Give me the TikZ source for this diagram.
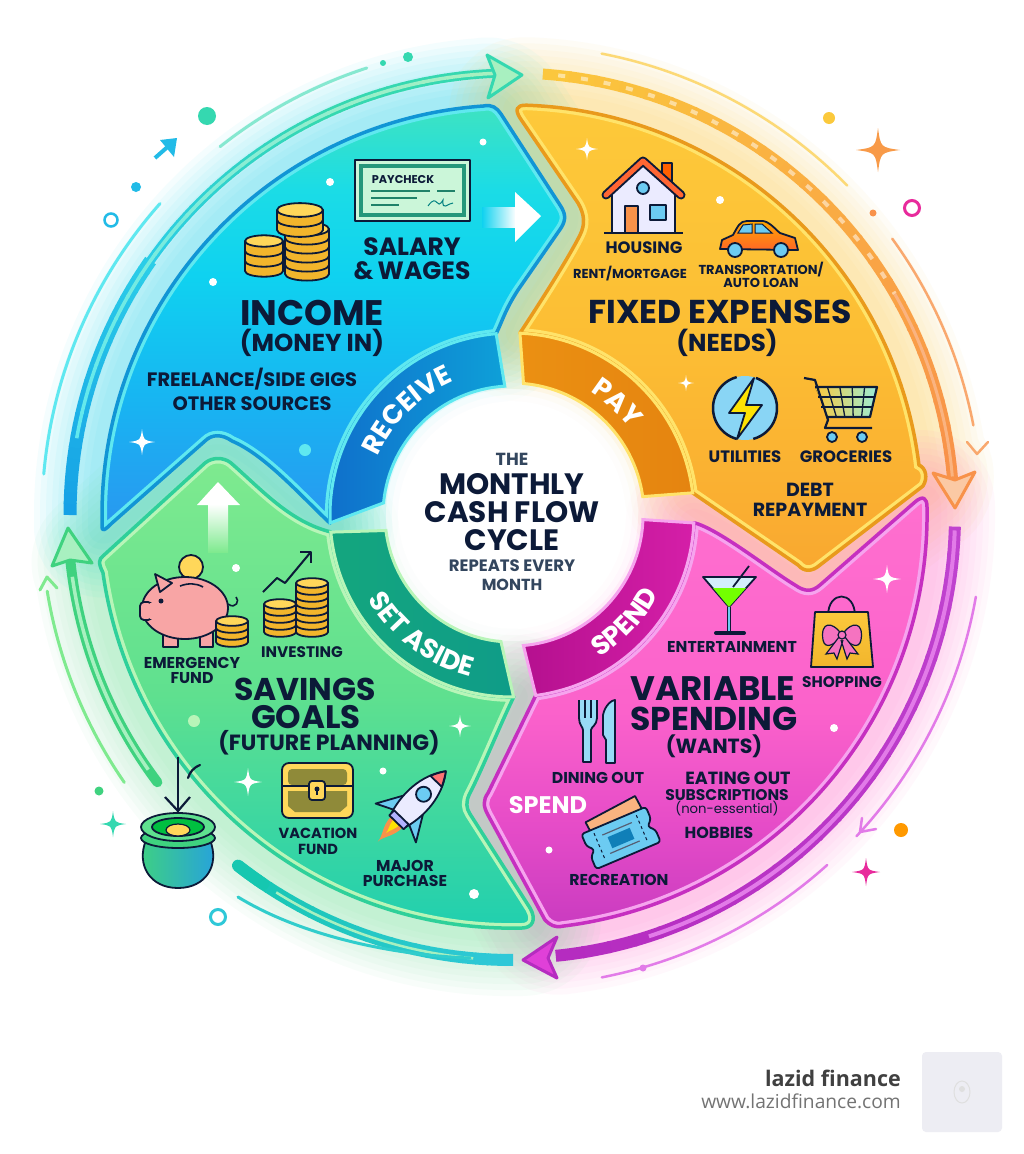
\documentclass[tikz,border=0pt]{standalone}
\usepackage{fontspec}
\setmainfont{Poppins}
\newfontfamily\logofont{Open Sans}
\usetikzlibrary{calc,decorations.text}

\definecolor{ink}{HTML}{0C1A38}
\definecolor{slate}{HTML}{33465E}
\definecolor{coinlo}{HTML}{F2B52C}
\definecolor{coinhi}{HTML}{FFD75A}
\definecolor{iconblue}{HTML}{6CCBF2}
\definecolor{pigpink}{HTML}{F8A5A5}
\definecolor{blueA}{HTML}{149FE6}
\definecolor{blueB}{HTML}{2BCDE8}
\definecolor{tealA}{HTML}{35D8B0}
\definecolor{mintA}{HTML}{A8F0C0}
\definecolor{goldA}{HTML}{FBC93C}
\definecolor{orangeA}{HTML}{F8924A}
\definecolor{purpleA}{HTML}{B52CC0}
\definecolor{purpleB}{HTML}{E27BE8}
\definecolor{purpleC}{HTML}{C044D0}
\definecolor{hotpink}{HTML}{E040D8}
\definecolor{greenA}{HTML}{3FD27F}
\definecolor{tealB}{HTML}{16C7B0}
\definecolor{tealC}{HTML}{2FC8D8}
\definecolor{incTop}{HTML}{3FE3C0}
\definecolor{incUp}{HTML}{1BDCE6}
\definecolor{incMid}{HTML}{0FD2F0}
\definecolor{incLow}{HTML}{18B4F2}
\definecolor{incBot}{HTML}{2A96F0}
\definecolor{incLight}{HTML}{5FE8F0}
\definecolor{incDark}{HTML}{1195D5}
\definecolor{fixTop}{HTML}{FDC93A}
\definecolor{fixMid}{HTML}{FCBE34}
\definecolor{fixBot}{HTML}{F9A830}
\definecolor{fixLight}{HTML}{FFE36A}
\definecolor{fixDark}{HTML}{E99A1C}
\definecolor{varTop}{HTML}{FF70CF}
\definecolor{varMid}{HTML}{FB62CB}
\definecolor{varLow}{HTML}{E64CC8}
\definecolor{varBot}{HTML}{C93BC0}
\definecolor{varLight}{HTML}{F6A4EE}
\definecolor{varDark}{HTML}{C62FC0}
\definecolor{savTop}{HTML}{7FEA8F}
\definecolor{savMid}{HTML}{5FE08F}
\definecolor{savBot}{HTML}{1FCFB0}
\definecolor{savLight}{HTML}{B8F5B8}
\definecolor{savDark}{HTML}{2FD09A}

\pgfdeclareverticalshading{incshade}{100bp}{color(0bp)=(incBot);color(25bp)=(incBot);color(40bp)=(incLow);color(55bp)=(incMid);color(65bp)=(incUp);color(75bp)=(incTop);color(100bp)=(incTop)}
\pgfdeclareverticalshading{fixshade}{100bp}{color(0bp)=(fixBot);color(25bp)=(fixBot);color(50bp)=(fixMid);color(75bp)=(fixTop);color(100bp)=(fixTop)}
\pgfdeclareverticalshading{varshade}{100bp}{color(0bp)=(varBot);color(25bp)=(varBot);color(37bp)=(varLow);color(50bp)=(varMid);color(75bp)=(varTop);color(100bp)=(varTop)}
\pgfdeclareverticalshading{savshade}{100bp}{color(0bp)=(savBot);color(25bp)=(savBot);color(50bp)=(savMid);color(75bp)=(savTop);color(100bp)=(savTop)}

\newcommand{\fs}[1]{\fontsize{#1}{#1}\selectfont}
\newcommand{\bandfont}{\fs{27}\bfseries}

\tikzset{
  title/.style={font=\fs{33}\bfseries,text=ink,inner sep=0pt},
  subtitle/.style={font=\fs{24.5}\bfseries,text=ink,inner sep=0pt},
  label/.style={font=\fs{15.7}\bfseries,text=ink,inner sep=0pt},
  tiny/.style={font=\fs{13}\bfseries,text=ink,inner sep=0pt},
  centre/.style={font=\fs{29.5}\bfseries,text=ink,inner sep=0pt},
  icon/.style={draw=ink,line width=1.8,line join=round},
  wheel/.style={decorate,decoration={text along path,text align=center,text color=white}}
}

\def\incomepath{(102,527) -- (102,515) arc[start angle=180,end angle=266,radius=410]
  .. controls (492,104) and (497,108) .. (501,114) -- (560,205) .. controls (566,214) and (566,220) .. (561,228)
  -- (518,290) .. controls (505,310) and (502,322) .. (496,334) arc[start angle=265,end angle=177.5,radius=182]
  .. controls (300,495) and (265,455) .. (232,441) .. controls (222,434) and (212,434) .. (205,441)
  -- (112,523) .. controls (105,530) and (102,532) .. (102,527) -- cycle}
\def\fixedpath{(526.3,105.2) arc[start angle=-88,end angle=-7,radius=410]
  .. controls (926,468) and (928,478) .. (923,486) -- (820,565) .. controls (812,572) and (804,572) .. (798,565)
  -- (692.6,492.8) arc[start angle=-7,end angle=-87.5,radius=182]
  .. controls (545,295) and (570,255) .. (580,235) .. controls (585,225) and (585,215) .. (578,203)
  -- (520,118) .. controls (515,110) and (516,105) .. (526.3,105.2) -- cycle}
\def\variablepath{(695,523) .. controls (720,530) and (770,570) .. (795,585) .. controls (805,592) and (812,592) .. (820,585)
  -- (915,502) .. controls (923,495) and (927,498) .. (927,507) arc[start angle=-1,end angle=83,radius=415]
  .. controls (555,928) and (550,925) .. (545,920) -- (488,815) .. controls (483,806) and (483,800) .. (488,793)
  -- (535.8,695.4) arc[start angle=82.5,end angle=2.5,radius=182] -- cycle}
\def\savingspath{(103,556) -- (205,463) .. controls (212,457) and (224,457) .. (231,463)
  .. controls (262,490) and (290,522) .. (331,532) arc[start angle=174.6,end angle=89.5,radius=182]
  .. controls (500,725) and (482,770) .. (469,795) .. controls (466,802) and (466,808) .. (470,814)
  -- (530,908) .. controls (537,920) and (532,928) .. (522,928) arc[start angle=88.6,end angle=172,radius=413]
  .. controls (98,563) and (99,559) .. (103,556) -- cycle}

\newcommand{\petal}[4]{
  \path[shading=#2] #1;
  \begin{scope}
    \clip #1;
    \draw[color=#3,line width=10] #1;
  \end{scope}
  \draw[color=#4,line width=3.5,line join=round] #1;
}
\newcommand{\glow}[2]{
  \foreach \w in {136,124,112,100,88,76,64,52,40,28}
    \draw[color=#2,opacity=0.045,line width=\w,line join=round] #1;
}
\newcommand{\ringarc}[6]{
  \foreach \i in {1,...,24}{
    \pgfmathsetmacro\aa{#2+(#3-#2)*(\i-1)/24}
    \pgfmathsetmacro\bb{#2+(#3-#2)*\i/24+(#3-#2)*0.004}
    \pgfmathsetmacro\pp{100*\i/24}
    \draw[line width=#6,color=#5!\pp!#4] ($(c)+(\aa:#1)$) arc[start angle=\aa,end angle=\bb,radius=#1];
  }
}
\newcommand{\sparkle}[4]{
  \fill[color=#4] (#1,#2-#3) .. controls (#1+#3*0.12,#2-#3*0.12) .. (#1+#3,#2)
    .. controls (#1+#3*0.12,#2+#3*0.12) .. (#1,#2+#3)
    .. controls (#1-#3*0.12,#2+#3*0.12) .. (#1-#3,#2)
    .. controls (#1-#3*0.12,#2-#3*0.12) .. cycle;
}
\newcommand{\coins}[5]{
  \foreach \i in {1,...,#4}{
    \pgfmathsetmacro\yy{#2-(\i-1)*#5}
    \draw[icon,fill=coinlo] (#1-#3,\yy-#5) -- (#1-#3,\yy) arc[start angle=180,end angle=0,x radius=#3,y radius=#3*0.3]
      -- (#1+#3,\yy-#5) -- cycle;
  }
  \pgfmathsetmacro\yy{#2-#4*#5}
  \draw[icon,fill=coinhi] (#1,\yy) ellipse[x radius=#3,y radius=#3*0.3];
}

\begin{document}
\begin{tikzpicture}[x=1pt,y=-1pt]
\useasboundingbox (0,0) rectangle (1024,1154);
\fill[white] (0,0) rectangle (1024,1154);
\coordinate (c) at (512,515);

\glow{\incomepath}{incMid}
\glow{\fixedpath}{fixTop}
\glow{\variablepath}{varTop}
\glow{\savingspath}{savMid}
\foreach \r in {126,120,114,108,102,96}
  \fill[white,opacity=0.45] (c) circle (\r);

% outer arrows
\ringarc{442}{180}{215}{blueA}{blueB}{13}
\ringarc{442}{215}{245}{blueB}{tealA}{9}
\ringarc{442}{245}{268}{tealA}{tealA}{9}
\ringarc{442}{190}{268}{incLight}{mintA}{3.5}
\draw[color=tealA,fill=mintA,line width=3,line join=round] (487,55) -- (522,75) -- (488,98) -- (495,75) -- cycle;
\draw[color=incLight,line width=3,line cap=round] ($(c)+(185:470)$) arc[start angle=185,end angle=221.5,radius=470];
\draw[color=tealA!60,line width=3,line cap=round] ($(c)+(231.6:470)$) arc[start angle=231.6,end angle=252,radius=470];

\ringarc{442}{-86}{-5}{goldA}{orangeA}{11}
\draw[color=white,opacity=0.5,line width=4,dash pattern=on 7 off 16] ($(c)+(-84:442)$) arc[start angle=-84,end angle=-30,radius=442];
\draw[color=orangeA!70,line width=3] ($(c)+(-30:442)$) arc[start angle=-30,end angle=-5,radius=442];
\draw[color=orangeA,fill=orangeA!50,line width=3,line join=round] (933,473) -- (955,480) -- (975,472) -- (955,508) -- cycle;
\draw[color=goldA!70,line width=2.5,line cap=round] ($(c)+(-79:470)$) arc[start angle=-79,end angle=-44.5,radius=470];
\draw[color=orangeA!80,line width=2.5,line cap=round] ($(c)+(-36:470)$) arc[start angle=-36,end angle=-11,radius=470];
\draw[color=orangeA!80,line width=2.5,line cap=round,line join=round] (967,442) -- (977,454) -- (988,442);

\ringarc{443}{1.5}{84}{purpleC}{purpleA}{12}
\draw[color=purpleB,line width=4] ($(c)+(2:443)$) arc[start angle=2,end angle=72,radius=443];
\draw[color=purpleA,fill=hotpink,line width=3,line join=round] (557,937) -- (548,958) -- (557,978) -- (523,960) -- cycle;
\draw[color=purpleB,line width=2.5,line cap=round] ($(c)+(10:471)$) arc[start angle=10,end angle=43,radius=471];
\draw[color=purpleB,line width=2.5,line cap=round,line join=round] (862,818) -- (860,832) -- (876,829);
\draw[color=purpleB,line width=2.5,line cap=round] ($(c)+(48:471)$) arc[start angle=48,end angle=79,radius=471];

\ringarc{445}{128}{90}{tealB}{tealC}{12}
\draw[color=tealB,line width=12,line cap=round] ($(c)+(128:445)$) arc[start angle=128,end angle=124,radius=445];
\draw[color=mintA,line width=2.5] ($(c)+(122:445)$) arc[start angle=122,end angle=95,radius=445];
\draw[color=tealC!70!tealA,line width=3,line cap=round] (238,897) .. controls (300,935) and (390,955) .. (470,958);
\draw[color=greenA,line width=10,line cap=round] ($(c)+(143:444)$) arc[start angle=143,end angle=174,radius=444];
\draw[color=mintA,line width=3.5] ($(c)+(145:444)$) arc[start angle=145,end angle=172,radius=444];
\draw[color=greenA,fill=mintA,line width=3,line join=round] (68,528) -- (52,566) -- (70,560) -- (92,563) -- cycle;
\draw[color=savTop,line width=3,line cap=round] ($(c)+(145.4:471)$) arc[start angle=145.4,end angle=170.7,radius=471];
\draw[color=savTop,line width=3,line cap=round,line join=round] (40,590) -- (47,577) -- (57,588);

% petals
\petal{\incomepath}{incshade}{incLight}{incDark}
\petal{\fixedpath}{fixshade}{fixLight}{fixDark}
\petal{\variablepath}{varshade}{varLight}{varDark}
\petal{\savingspath}{savshade}{savLight}{savDark}

% wheel bands
\definecolor{recvA}{HTML}{0F6FCB}\definecolor{recvB}{HTML}{0EA0D8}
\definecolor{payA}{HTML}{EB9012}\definecolor{payB}{HTML}{E58410}
\definecolor{spendA}{HTML}{B5108F}\definecolor{spendB}{HTML}{D51FA8}
\definecolor{asideA}{HTML}{14A67E}\definecolor{asideB}{HTML}{0F9C88}
\fill[left color=recvA,right color=recvB,draw=incLight,line width=3] ($(c)+(185.4:129)$) arc[start angle=185.4,end angle=266.8,radius=129]
  -- ($(c)+(265:182)$) arc[start angle=265,end angle=177.5,radius=182] -- cycle;
\fill[left color=payA,right color=payB,draw=fixLight,line width=3] ($(c)+(-85:132)$) arc[start angle=-85,end angle=-8,radius=132]
  -- ($(c)+(-7:182)$) arc[start angle=-7,end angle=-87.5,radius=182] -- cycle;
\fill[left color=spendA,right color=spendB,draw=varLight,line width=3] ($(c)+(2:131)$) arc[start angle=2,end angle=85,radius=131]
  -- ($(c)+(82.5:182)$) arc[start angle=82.5,end angle=2.5,radius=182] -- cycle;
\fill[left color=asideA,right color=asideB,draw=savLight,line width=3] ($(c)+(173:127)$) arc[start angle=173,end angle=95,radius=127]
  -- ($(c)+(89.5:182)$) arc[start angle=89.5,end angle=174.6,radius=182] -- cycle;

\path[wheel,decoration={text={|\bandfont|RECEIVE}}] ($(c)+(182:146)$) arc[start angle=182,end angle=268,radius=146];
\path[wheel,decoration={text={|\bandfont|PAY}}] ($(c)+(-85:146)$) arc[start angle=-85,end angle=-9,radius=146];
\path[wheel,decoration={text={|\bandfont|SPEND}}] ($(c)+(85:167)$) arc[start angle=85,end angle=2,radius=167];
\path[wheel,decoration={text={|\bandfont|SET ASIDE}}] ($(c)+(175:167)$) arc[start angle=175,end angle=79,radius=167];

% white arrows
\fill[left color=incMid,right color=white] (482,207) rectangle (516,227);
\fill[white] (515,192) -- (541,216) -- (515,242) -- cycle;
\fill[bottom color=savTop,top color=white] (208,504) rectangle (228,552);
\fill[white] (218,482) -- (240,505) -- (197,505) -- cycle;

% dots and stars
\fill[color=tealA] (207,116) circle (9);
\fill[color=tealA] (408,57) circle (5);
\fill[color=tealA] (383,63) circle (3);
\fill[color=blueB!60!blueA] (136,187) circle (5);
\draw[color=blueB!60!blueA,line width=2.5] (111,220) circle (6.5);
\draw[color=blueB!60!blueA,line width=4] (155,158) -- (172,143);
\fill[color=blueB!60!blueA] (177,138) -- (160,140) -- (174,157) -- cycle;
\fill[white] (330,182) circle (4);
\fill[white] (213,282) circle (4);
\fill[white] (483,142) circle (3.5);
\fill[color=incLight] (305,450) circle (6);
\sparkle{142}{442}{13}{white}
\fill[color=goldA] (829,118) circle (6);
\fill[color=orangeA] (873,213) circle (3.5);
\draw[color=magenta!70!purpleB,line width=3] (912,208) circle (7.5);
\sparkle{878}{150}{22}{orangeA!85!goldA}
\sparkle{587}{149}{11}{white}
\fill[white] (720,200) circle (4);
\sparkle{686}{383}{8}{white}
\fill[color=orange!80!yellow] (901,830) circle (7);
\sparkle{866}{872}{14}{magenta!70!purpleB}
\fill[color=purpleB] (643,968) circle (3.5);
\sparkle{887}{579}{14}{white}
\fill[white] (834,728) circle (4);
\fill[white] (549,850) circle (3.5);
\fill[color=greenA] (99,791) circle (4.5);
\sparkle{113}{824}{13}{tealA}
\draw[color=tealC,line width=3] (218,917) circle (7.5);
\fill[white] (474,894) circle (5);
\fill[white] (383,771) circle (3.5);
\sparkle{248}{782}{14}{white}
\sparkle{460}{726}{11}{white}
\fill[color=savLight] (194,721) circle (6);
\fill[white] (236,568) circle (4);

% income icons
\draw[icon,fill=mintA!60] (355,160) rectangle (470,221);
\draw[color=tealA!70!black,line width=4] (361,166) rectangle (464,215);
\node (paycheck) at (403,180) [font=\fs{11.3}\bfseries,text=ink,inner sep=0pt] {PAYCHECK};
\draw[color=tealA!60!black,line width=1.5] (371,191) -- (430,191) (437,191) -- (455,191) (371,198) -- (417,198) (371,205) -- (399,205);
\draw[color=teal,line width=1] (428,206) .. controls (438,192) and (436,212) .. (443,200) .. controls (442,212) and (448,203) .. (453,203);
\coins{264}{271}{19}{3}{10}
\coins{307}{274}{22}{5}{9}
\coins{300}{230}{23}{2}{10}

% fixed icons
\fill[color=white!92!blue,draw=ink,line width=1.8] (612,193) -- (643,165) -- (675,193) -- (675,233) -- (612,233) -- cycle;
\draw[icon,fill=orange!75!red] (662,163) rectangle (672,183);
\draw[color=ink,line width=9,line cap=round,line join=round] (606,195) -- (643,161) -- (681,195);
\draw[color=orange!50!red!80!white,line width=5,line cap=round,line join=round] (606,195) -- (643,161) -- (681,195);
\draw[icon,fill=orangeA] (625,206) rectangle (638,233);
\draw[icon,fill=iconblue] (650,205) rectangle (666,220);
\draw[icon,fill=iconblue] (643,188) circle (6);
\draw[color=ink,line width=2.2] (604,233) -- (683,233);
\draw[icon,top color=orange!70!yellow,bottom color=orange!60!red!85!white] (720,249) -- (722,240) -- (733,235) .. controls (738,226) and (740,221) .. (747,221) -- (763,221) .. controls (770,222) and (776,230) .. (780,233) -- (795,238) -- (798,250) -- cycle;
\fill[color=iconblue,draw=ink,line width=1] (738,233) -- (743,225) -- (752,224) -- (752,233) -- cycle;
\fill[color=iconblue,draw=ink,line width=1] (755,224) -- (762,224) -- (772,233) -- (755,233) -- cycle;
\draw[icon,fill=iconblue] (735,250) circle (7);
\draw[icon,fill=iconblue] (781,250) circle (7);
\fill[color=iconblue!80] (745,408) circle (32);
\draw[color=ink,line width=2.5] ($(745,408)+(-70:32)$) arc[start angle=-70,end angle=75,radius=32];
\draw[color=ink,line width=2.5] ($(745,408)+(105:32)$) arc[start angle=105,end angle=255,radius=32];
\draw[icon,fill=yellow!85!orange] (754,378) -- (729,413) -- (745,413) -- (737,439) -- (762,405) -- (746,405) -- cycle;
\fill[left color=goldA,right color=tealA!50] (815,387) -- (877,387) -- (870,417) -- (828,417) -- cycle;
\foreach \t in {0.2,0.4,0.6,0.8}
  \draw[color=ink,line width=1.3] ($(815,387)!\t!(877,387)$) -- ($(828,417)!\t!(870,417)$);
\draw[color=ink,line width=1.3] (818,397) -- (874,397) (821,407) -- (872,407);
\draw[color=ink,line width=2.2,line join=round] (804,378) -- (815,380) -- (828,420) -- (825,428) -- (872,428) (815,387) -- (877,387) -- (870,417) -- (828,417);
\draw[icon,fill=iconblue] (832,437) circle (5);
\draw[icon,fill=iconblue] (862,437) circle (5);

% variable icons
\draw[icon,fill=iconblue!30] (703,577) -- (756,577) -- (729,607) -- cycle;
\fill[color=green!55!yellow] (713,588) -- (746,588) -- (729,607) -- cycle;
\draw[color=ink,line width=1.8] (733,587) -- (749,566);
\draw[color=ink,line width=4] (729,607) -- (729,631);
\draw[color=iconblue,line width=1.5] (729,607) -- (729,631);
\draw[color=ink,line width=4,line cap=round] (716,633) -- (744,633);
\draw[icon] (828,616) .. controls (828,590) and (855,590) .. (855,616);
\draw[icon,top color=goldA,bottom color=coinlo] (815,612) -- (868,612) -- (873,667) -- (811,667) -- cycle;
\draw[color=ink,line width=1.2,fill=magenta!55!white] (842,635) .. controls (832,620) and (820,622) .. (823,640) .. controls (825,650) and (835,645) .. (842,635);
\draw[color=ink,line width=1.2,fill=magenta!55!white] (842,635) .. controls (852,620) and (864,622) .. (861,640) .. controls (859,650) and (849,645) .. (842,635);
\draw[color=ink,line width=1.2,fill=magenta!55!white] (839,637) -- (826,654) -- (834,653) -- (837,659) -- (843,640) (845,637) -- (858,654) -- (850,653) -- (847,659) -- (841,640);
\draw[color=ink,line width=1.2,fill=magenta!55!white] (842,635) circle (4);
\draw[icon,fill=iconblue!70] (579,700) -- (579,718) .. controls (579,725) and (583,727) .. (583,730) -- (583,762) -- (591,762) -- (591,730) .. controls (591,727) and (597,725) .. (597,718) -- (597,700);
\draw[color=ink,line width=1.5] (585,700) -- (585,718) (591,700) -- (591,718);
\draw[icon,fill=iconblue!70] (606,763) -- (606,740) -- (603,735) -- (603,715) .. controls (605,705) and (612,700) .. (615,700) -- (615,763) -- cycle;
\begin{scope}[shift={(615,818)},rotate=28]
  \draw[icon,fill=orangeA!70] (-28,-10) rectangle (28,12);
\end{scope}
\begin{scope}[shift={(621,838)},rotate=23]
  \draw[icon,fill=iconblue,rounded corners=3] (-35,-19) -- (35,-19) -- (35,-6) -- (29,0) -- (35,6) -- (35,19) -- (-35,19) -- (-35,6) -- (-29,0) -- (-35,-6) -- cycle;
  \draw[color=ink,line width=1,dashed] (-23,-15) -- (-23,15) (23,-15) -- (23,15);
  \draw[color=ink!70,line width=1.2] (-16,-10) -- (16,-10) (-16,10) -- (16,10);
  \fill[color=blueA!80!black] (-12,-6) rectangle (12,6);
\end{scope}

% savings icons
\fill[color=coinhi,draw=ink,line width=1.8] (191,567) circle (12);
\draw[color=ink,line width=1.6] (228,604) .. controls (236,610) and (240,600) .. (236,597);
\draw[icon,fill=pigpink] (163,630) rectangle (178,647);
\draw[icon,fill=pigpink] (200,630) rectangle (213,647);
\draw[icon,fill=pigpink] (185,608) ellipse[x radius=43,y radius=31];
\draw[icon,fill=pigpink] (155,574) -- (172,583) -- (160,592) -- cycle;
\draw[icon,fill=pigpink,rounded corners=4] (140,602) rectangle (152,620);
\fill[color=pigpink] (150,603) rectangle (156,619);
\fill[color=ink] (161,601) circle (2.5);
\draw[color=ink,line width=1.6] (180,586) .. controls (188,583) and (196,583) .. (203,587);
\coins{232}{642}{16}{3}{7}
\coins{280}{632}{16}{4}{7}
\coins{312}{632}{16}{7}{7}
\draw[color=ink,line width=2,line join=round] (263,592) -- (277,578) -- (285,583) -- (310,553);
\draw[color=ink,line width=2,line join=round] (300,552) -- (311,552) -- (311,563);
\draw[icon,fill=coinhi,rounded corners=7] (282,763) rectangle (353,818);
\fill[color=olive!60!gray,rounded corners=4] (288,769) rectangle (347,785);
\fill[color=olive!60!gray] (288,791) -- (347,791) -- (347,806) -- (340,812) -- (295,812) -- (288,806) -- cycle;
\draw[color=ink,line width=1.5] (282,786) -- (353,786);
\draw[icon,fill=coinhi,rounded corners=3] (309,781) rectangle (325,800);
\fill[color=ink] (317,789) circle (2.5);
\draw[color=ink,line width=1.5] (317,789) -- (317,795);
\begin{scope}[shift={(418,800)},rotate=-44]
  \draw[icon,fill=iconblue] (-13,6) -- (-28,32) -- (-11,24) -- cycle;
  \draw[icon,fill=iconblue] (13,6) -- (28,32) -- (11,24) -- cycle;
  \fill[color=orangeA] (-8,30) .. controls (-8,44) and (0,50) .. (0,58) .. controls (0,50) and (8,44) .. (8,30) -- cycle;
  \fill[color=yellow!85!orange] (-4,30) .. controls (-4,38) and (0,42) .. (0,46) .. controls (0,42) and (4,38) .. (4,30) -- cycle;
  \draw[icon,fill=white!92!blue] (-10,28) .. controls (-18,0) and (-12,-25) .. (0,-40) .. controls (12,-25) and (18,0) .. (10,28) -- cycle;
  \draw[icon,fill=red!55!white] (-8,-26) .. controls (-5,-32) and (-3,-36) .. (0,-40) .. controls (3,-36) and (5,-32) .. (8,-26) -- cycle;
  \draw[icon,fill=white!70!blue] (-10,24) rectangle (10,31);
  \draw[icon,fill=iconblue] (0,-8) circle (7.5);
\end{scope}
\draw[icon,left color=greenA,right color=tealC!80!blue] (146,840) .. controls (136,865) and (150,888) .. (178,888) .. controls (206,888) and (220,865) .. (210,840) -- cycle;
\draw[icon,fill=greenA] (178,838) ellipse[x radius=37,y radius=10];
\draw[icon,fill=savMid] (178,827) ellipse[x radius=37,y radius=14];
\draw[icon,fill=green!50!teal] (178,827) ellipse[x radius=26,y radius=9];
\draw[color=ink,line width=1.2,fill=coinhi] (178,830) ellipse[x radius=12,y radius=6];
\draw[color=ink,line width=2.2] (178,757) -- (178,810);
\draw[color=ink,line width=2.2,line join=round] (165,797) -- (178,811) -- (190,797);
\draw[color=ink,line width=2.2,line cap=round] (200,765) .. controls (193,768) and (190,772) .. (188,778);

% texts
\node (the) at (512,459) [font=\fs{17.5}\bfseries,text=slate,inner sep=0pt] {THE};
\node (monthly) at (512,484) [centre] {MONTHLY};
\node (cashflow) at (512,512) [centre] {CASH FLOW};
\node (cycle) at (512,540) [centre] {CYCLE};
\node (repeats) at (512,566) [font=\fs{16.5}\bfseries,text=slate,inner sep=0pt] {REPEATS EVERY};
\node (month) at (512,585) [font=\fs{16}\bfseries,text=slate,inner sep=0pt] {MONTH};

\node (income) at (312,313) [title,font=\fs{35.5}\bfseries] {INCOME};
\node (moneyin) at (312,343) [subtitle] {(MONEY IN)};
\node (salary) at (412,247) [subtitle,font=\fs{25}\bfseries] {SALARY};
\node (wages) at (412,271) [subtitle,font=\fs{25}\bfseries] {\&\,WAGES};
\node (freelance) at (252,379) [label,font=\fs{19.4}\bfseries] {FREELANCE/SIDE GIGS};
\node (othersrc) at (252,404) [label,font=\fs{19.4}\bfseries] {OTHER SOURCES};

\node (housing) at (644,248) [label,font=\fs{16.5}\bfseries] {HOUSING};
\node (rent) at (630,274) [tiny] {RENT/MORTGAGE};
\node (transport) at (761,270) [tiny] {TRANSPORTATION/};
\node (autoloan) at (761,283) [tiny] {AUTO LOAN};
\node (fixed) at (720,312) [title] {FIXED EXPENSES};
\node (needs) at (727,343) [subtitle] {(NEEDS)};
\node (utilities) at (745,457) [label,font=\fs{16.5}\bfseries] {UTILITIES};
\node (groceries) at (846,457) [label,font=\fs{16.5}\bfseries] {GROCERIES};
\node (debt) at (810,490) [label,font=\fs{19}\bfseries] {DEBT};
\node (repay) at (810,510) [label,font=\fs{19}\bfseries] {REPAYMENT};

\node (entertain) at (732,647) [label] {ENTERTAINMENT};
\node (shopping) at (842,682) [label,font=\fs{15.4}\bfseries] {SHOPPING};
\node (variable) at (713,689) [title,font=\fs{34}\bfseries] {VARIABLE};
\node (spending) at (714,719) [title] {SPENDING};
\node (wants) at (714,746) [subtitle,font=\fs{20.5}\bfseries] {(WANTS)};
\node (dining) at (598,778) [label] {DINING OUT};
\node (eating) at (738,778) [label,font=\fs{17.6}\bfseries] {EATING OUT};
\node (subscr) at (727,795) [label,font=\fs{15.5}\bfseries] {SUBSCRIPTIONS};
\node (nonessential) at (727,809) [label,font=\fs{13.2}] {(non-essential)};
\node (hobbies) at (719,833) [label,font=\fs{16}\bfseries] {HOBBIES};
\node (spendtag) at (548,805) [font=\fs{24}\bfseries,text=white,inner sep=0pt] {SPEND};
\node (recreation) at (619,880) [label] {RECREATION};

\node (emergency) at (192,663) [label] {EMERGENCY};
\node (fund) at (192,678) [label] {FUND};
\node (investing) at (302,652) [label,font=\fs{15.3}\bfseries] {INVESTING};
\node (savings) at (305,689) [title,font=\fs{31.5}\bfseries] {SAVINGS};
\node (goals) at (306,717) [title,font=\fs{32.5}\bfseries] {GOALS};
\node (future) at (329,743) [subtitle,font=\fs{22}\bfseries] {(FUTURE PLANNING)};
\node (vacation) at (318,833) [label,font=\fs{14.6}\bfseries] {VACATION};
\node (vfund) at (318,849) [label,font=\fs{14.6}\bfseries] {FUND};
\node (major) at (405,866) [label] {MAJOR};
\node (purchase) at (405,881) [label] {PURCHASE};

% logo
\node (brand) [anchor=east,font=\logofont\fs{21.5}\bfseries,text=black!75,inner sep=0pt] at (901,1078) {lazid finance};
\node (site) [anchor=east,font=\logofont\fs{19.2}\selectfont,text=black!55,inner sep=0pt] at (901,1101) {www.lazidfinance.com};
\fill[color=blue!20!gray!12,rounded corners=4] (922,1052) rectangle (1002,1132);
\draw[color=gray!25,line width=1] (962,1092) ellipse[x radius=8,y radius=11];
\fill[color=gray!25] (962,1089) circle (3);
\end{tikzpicture}
\end{document}
